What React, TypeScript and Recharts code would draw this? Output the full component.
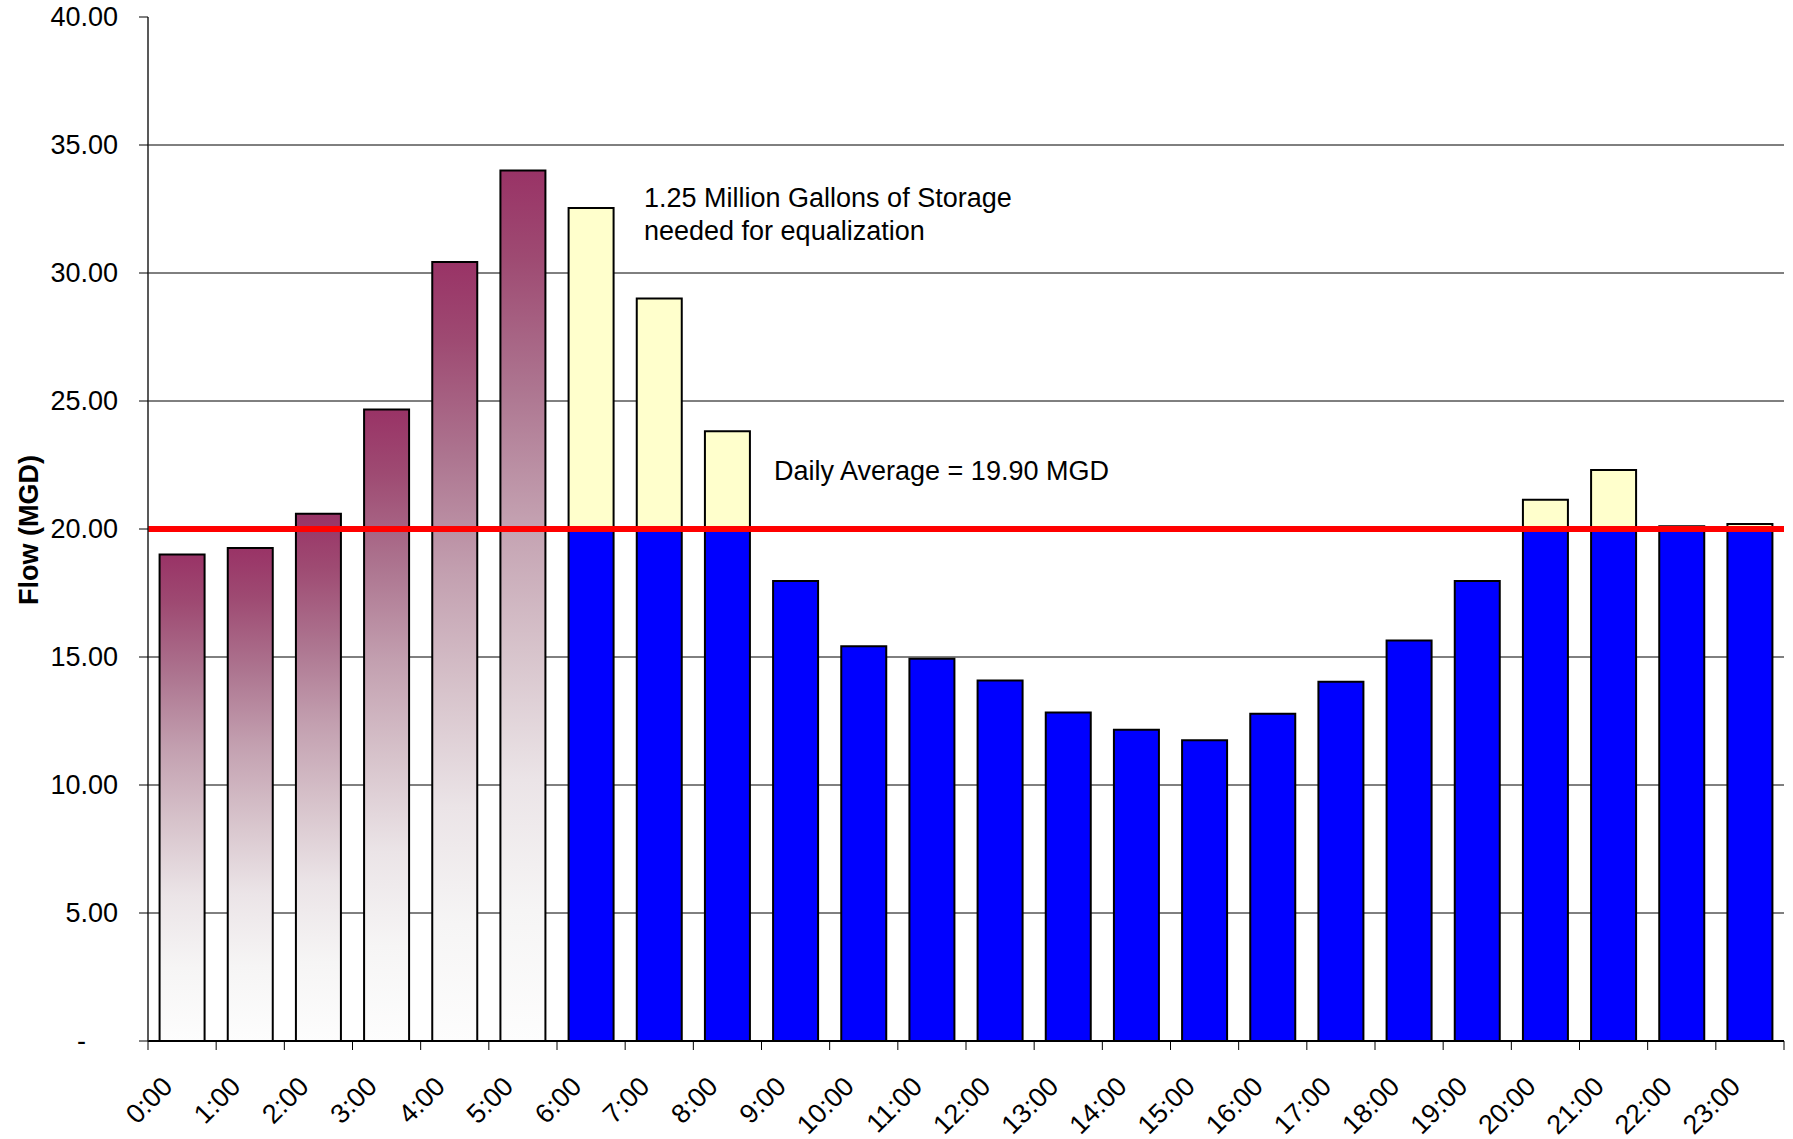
import React from 'react';
import { Bar, BarChart, CartesianGrid, ReferenceLine, XAxis, YAxis } from 'recharts';

const hours = [
  '0:00', '1:00', '2:00', '3:00', '4:00', '5:00', '6:00', '7:00', '8:00', '9:00', '10:00', '11:00',
  '12:00', '13:00', '14:00', '15:00', '16:00', '17:00', '18:00', '19:00', '20:00', '21:00', '22:00', '23:00',
];
const flow = [
  19.0, 19.26, 20.6, 24.67, 30.43, 34.0, 32.54, 29.0, 23.82, 17.97, 15.42, 14.93,
  14.08, 12.83, 12.16, 11.75, 12.78, 14.03, 15.64, 17.97, 21.14, 22.3, 20.11, 20.2,
];
// first hours are drawn as the purple gradient bars
const gradientHours = 6;
const averageLine = 20;
const yTicks = [0, 5, 10, 15, 20, 25, 30, 35, 40];
const gridValues = [5, 10, 15, 20, 25, 30, 35];
const storageNote = ['1.25 Million Gallons of Storage', 'needed for equalization'];
const averageNote = 'Daily Average = 19.90 MGD';

const W = 1793;
const H = 1139;
const margin = { top: 17, right: 9, left: 0, bottom: 0 };
const yAxisWidth = 148;
const xAxisHeight = 98;
const band = (W - margin.left - margin.right - yAxisWidth) / hours.length;
const font = '"Liberation Sans", Arial, Helvetica, sans-serif';
const fontSize = 27;

// plum fade used by the early-morning bars
const fadeStops = [
  ['0%', '#993366'],
  ['10%', '#9e4a72'],
  ['25%', '#ad7590'],
  ['40%', '#c3a0b0'],
  ['55%', '#d7c3cb'],
  ['70%', '#ebe4e7'],
  ['85%', '#f6f5f5'],
  ['100%', '#fdfdfd'],
];

const rows = hours.map((hour, i) => ({
  hour,
  early: i < gradientHours ? flow[i] : 0,
  base: i >= gradientHours ? Math.min(flow[i], averageLine) : 0,
  excess: i >= gradientHours ? Math.max(flow[i] - averageLine, 0) : 0,
}));

const XTick = (props: any) => {
  const { x, y, payload, index } = props;
  const half = band / 2;
  const tx = x - 8;
  const ty = y + 47;
  return (
    <g>
      <line x1={x - half} y1={y} x2={x - half} y2={y + 9} stroke="#000" strokeWidth={1} />
      {index === hours.length - 1 && (
        <line x1={x + half} y1={y} x2={x + half} y2={y + 9} stroke="#000" strokeWidth={1} />
      )}
      <text
        x={tx}
        y={ty}
        transform={`rotate(-45 ${tx} ${ty})`}
        textAnchor="end"
        fontSize={fontSize}
        fontFamily={font}
        fill="#000"
      >
        {payload.value}
      </text>
    </g>
  );
};

const YTick = (props: any) => {
  const { x, y, payload } = props;
  const zero = payload.value === 0;
  return (
    <g>
      <line x1={x - 9} y1={y} x2={x} y2={y} stroke="#000" strokeWidth={1} />
      <text
        x={zero ? x - 62 : x - 30}
        y={y}
        dy="0.35em"
        textAnchor="end"
        fontSize={fontSize}
        fontFamily={font}
        fill="#000"
      >
        {zero ? '-' : payload.value.toFixed(2)}
      </text>
    </g>
  );
};

const noteStyle: React.CSSProperties = {
  position: 'absolute',
  fontFamily: font,
  fontSize,
  lineHeight: '33px',
  color: '#000',
  whiteSpace: 'nowrap',
};

export default function App() {
  return (
    <div style={{ position: 'absolute', left: 0, top: 0, width: W, height: H, background: '#fff' }}>
      <BarChart width={W} height={H} data={rows} margin={margin} barCategoryGap="17%">
        <defs>
          <linearGradient id="plumFade" x1="0" y1="0" x2="0" y2="1">
            {fadeStops.map(([offset, color]) => (
              <stop key={offset} offset={offset} stopColor={color} />
            ))}
          </linearGradient>
        </defs>
        <CartesianGrid horizontal vertical={false} horizontalValues={gridValues} stroke="#000" strokeWidth={1} />
        <XAxis
          dataKey="hour"
          interval={0}
          height={xAxisHeight}
          tickLine={false}
          tickSize={0}
          tickMargin={0}
          tick={<XTick />}
          axisLine={{ stroke: '#000', strokeWidth: 2 }}
        />
        <XAxis
          xAxisId="top"
          orientation="top"
          dataKey="hour"
          height={0}
          tick={false}
          tickLine={false}
          axisLine={{ stroke: '#999', strokeWidth: 2 }}
        />
        <YAxis
          type="number"
          domain={[0, 40]}
          ticks={yTicks}
          width={yAxisWidth}
          interval={0}
          tickLine={false}
          tickSize={0}
          tickMargin={0}
          tick={<YTick />}
          axisLine={{ stroke: '#222', strokeWidth: 1.5 }}
        />
        <YAxis
          yAxisId="right"
          orientation="right"
          type="number"
          domain={[0, 40]}
          width={0}
          tick={false}
          tickLine={false}
          axisLine={{ stroke: '#999', strokeWidth: 2 }}
        />
        <Bar dataKey="early" stackId="flow" fill="url(#plumFade)" stroke="#000" strokeWidth={2} isAnimationActive={false} />
        <Bar dataKey="base" stackId="flow" fill="#0000ff" stroke="#000" strokeWidth={2} isAnimationActive={false} />
        <Bar dataKey="excess" stackId="flow" fill="#ffffcc" stroke="#000" strokeWidth={2} isAnimationActive={false} />
        <ReferenceLine y={averageLine} stroke="#ff0000" strokeWidth={6} />
      </BarChart>
      <svg style={{ position: 'absolute', left: 0, top: 0 }} width={80} height={H}>
        <text
          x={38}
          y={530}
          transform="rotate(-90 38 530)"
          textAnchor="middle"
          fontSize={fontSize}
          fontWeight="bold"
          fontFamily={font}
          fill="#000"
        >
          Flow (MGD)
        </text>
      </svg>
      <div style={{ ...noteStyle, left: 644, top: 182 }}>
        {storageNote.map((line) => (
          <div key={line}>{line}</div>
        ))}
      </div>
      <div style={{ ...noteStyle, left: 774, top: 455 }}>{averageNote}</div>
    </div>
  );
}
